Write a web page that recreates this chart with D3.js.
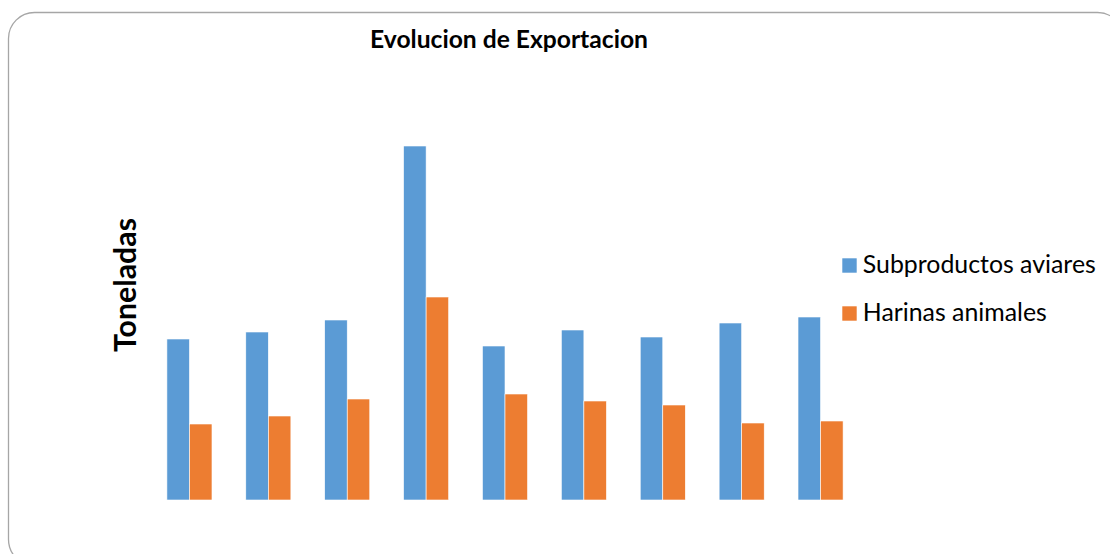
<!DOCTYPE html>
<html>
<head>
<meta charset="utf-8">
<script src="https://cdn.jsdelivr.net/npm/d3@7"></script>
<style>
  html, body { margin: 0; padding: 0; background: #fff; }
  svg { display: block; }
  text { font-family: Lato, "Open Sans", sans-serif; fill: #000; }
</style>
</head>
<body>
<svg id="chart" width="1110" height="554"></svg>
<script>
// Export tonnage per period, two product lines
const periods = ["1", "2", "3", "4", "5", "6", "7", "8", "9"];
const seriesNames = ["Subproductos aviares", "Harinas animales"];
const subproductosAviares = [161, 168, 180, 354, 154, 170, 163, 177, 183];
const harinasAnimales = [76, 84, 101, 203, 106, 99, 95, 77, 79];
const seriesColors = ["#5B9BD5", "#ED7D31"];

const rows = periods.map((p, i) => ({
  period: p,
  values: [subproductosAviares[i], harinasAnimales[i]]
}));

const svg = d3.select("#chart");

// Chart area frame with rounded corners (extends past the view on the right and bottom)
svg.append("rect")
  .attr("x", 8.5).attr("y", 12.5)
  .attr("width", 1115).attr("height", 553)
  .attr("rx", 26).attr("ry", 26)
  .attr("fill", "#fff")
  .attr("stroke", "#a6a6a6")
  .attr("stroke-width", 1.3);

const x0 = d3.scaleBand()
  .domain(periods)
  .range([150, 860])
  .paddingInner(1.5 / 3.5)
  .paddingOuter(0.75 / 3.5);

const x1 = d3.scaleBand()
  .domain(d3.range(seriesNames.length))
  .range([0, x0.bandwidth()]);

const y = d3.scaleLinear().domain([0, 400]).range([500, 100]);

const groups = svg.append("g").selectAll("g")
  .data(rows)
  .join("g")
  .attr("transform", d => `translate(${x0(d.period)},0)`);

groups.selectAll("rect")
  .data(d => d.values.map((v, k) => ({ k, v })))
  .join("rect")
  .attr("x", d => x1(d.k))
  .attr("width", x1.bandwidth())
  .attr("y", d => y(d.v))
  .attr("height", d => y(0) - y(d.v))
  .attr("fill", d => seriesColors[d.k])
  .attr("stroke", "#fff")
  .attr("stroke-width", 0.6);

// Fit a label's font size so it spans a given width
function fitText(sel, targetWidth) {
  const node = sel.node();
  const base = parseFloat(sel.style("font-size"));
  const w = node.getComputedTextLength();
  sel.style("font-size", (base * targetWidth / w).toFixed(2) + "px");
}

// Title
const title = svg.append("text")
  .attr("x", 509).attr("y", 48)
  .attr("text-anchor", "middle")
  .style("font-weight", "bold")
  .style("font-size", "19px")
  .text("Evolucion de Exportacion");
fitText(title, 278);

// Y axis title
const yTitle = svg.append("text")
  .attr("transform", "translate(136,285) rotate(-90)")
  .attr("text-anchor", "middle")
  .style("font-weight", "bold")
  .style("font-size", "24px")
  .text("Toneladas");
fitText(yTitle, 134);

// Legend
const legend = svg.append("g").selectAll("g")
  .data(seriesNames)
  .join("g")
  .attr("transform", (d, i) => `translate(842.3,${258.3 + i * 48})`);

legend.append("rect")
  .attr("width", 14.4).attr("height", 14.4)
  .attr("fill", (d, i) => seriesColors[i]);

const legendWidths = [233, 184];
legend.append("text")
  .attr("x", 20.5).attr("y", 14.5)
  .style("font-size", "20px")
  .text(d => d)
  .each(function (d, i) { fitText(d3.select(this), legendWidths[i]); });
</script>
</body>
</html>
